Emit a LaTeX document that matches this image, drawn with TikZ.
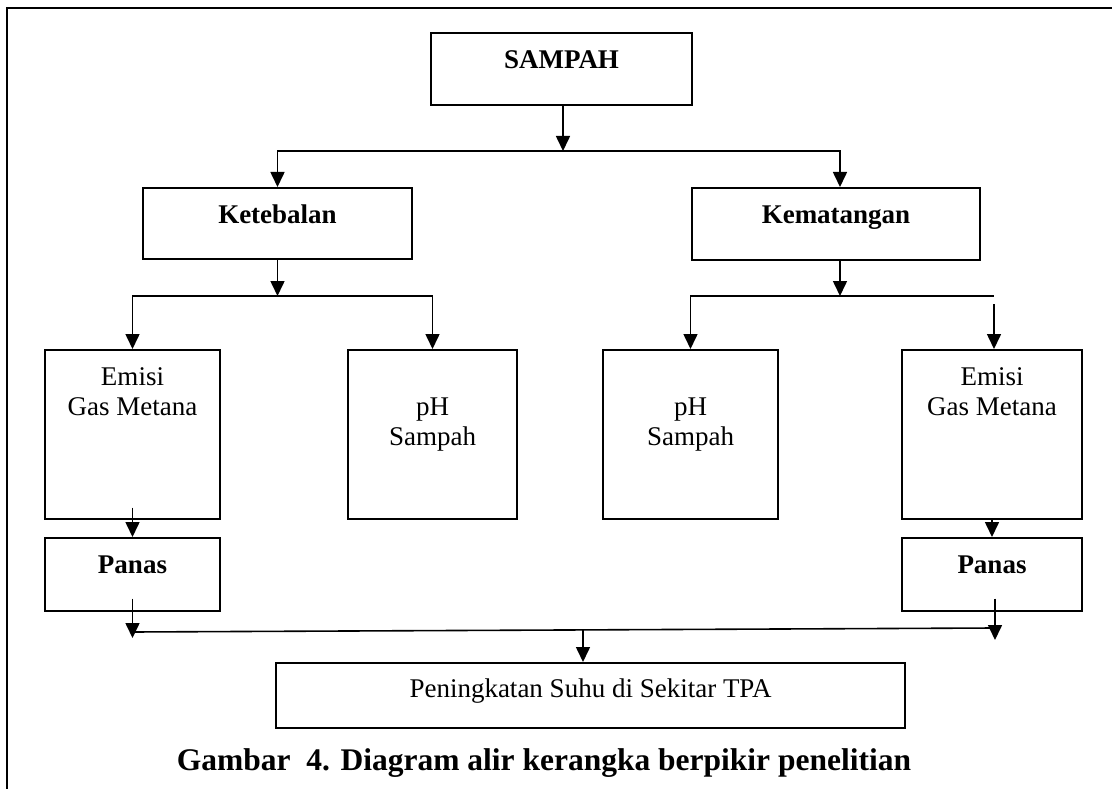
\documentclass[tikz,border=0pt]{standalone}
\usepackage{fontspec}
\setmainfont{Liberation Serif}
\usetikzlibrary{arrows.meta}
\tikzset{
  box/.style={draw, line width=1.6pt, inner sep=0pt, anchor=north, align=center,
              font=\fontsize{27}{30}\selectfont},
  arr/.style={line width=1.6pt, -{Triangle[width=14pt,length=15pt]}},
  ln/.style={line width=1.6pt},
  frame/.style={line width=2.4pt}
}
\newcommand{\twoline}[2]{\begin{tabular}[t]{@{}c@{}}#1\\#2\end{tabular}}
\begin{document}
\begin{tikzpicture}[x=1pt,y=-1pt]
\useasboundingbox (0,0) rectangle (1112,789);
\draw[frame] (7,789) -- (7,8) -- (1112,8);

% boxes
\node[box, minimum width=261pt, minimum height=72pt, text height=36pt, text depth=36pt] (s) at (561.5,32) {\textbf{SAMPAH}};
\node[box, minimum width=269pt, minimum height=71pt, text height=36pt, text depth=35pt] (ket) at (277.5,187) {\textbf{Ketebalan}};
\node[box, minimum width=288pt, minimum height=72pt, text height=36pt, text depth=36pt] (kem) at (836,187) {\textbf{Kematangan}};
\node[box, minimum width=175pt, minimum height=169pt, text height=36pt, text depth=133pt] (emL) at (132.5,349) {\twoline{Emisi}{Gas Metana}};
\node[box, minimum width=169pt, minimum height=169pt, text height=66pt, text depth=103pt] (phL) at (432.5,349) {\twoline{pH}{Sampah}};
\node[box, minimum width=175pt, minimum height=169pt, text height=66pt, text depth=103pt] (phR) at (690.5,349) {\twoline{pH}{Sampah}};
\node[box, minimum width=180pt, minimum height=169pt, text height=36pt, text depth=133pt] (emR) at (992,349) {\twoline{Emisi}{Gas Metana}};
\node[box, minimum width=175pt, minimum height=73pt, text height=36pt, text depth=37pt] (panL) at (132.5,537) {\textbf{Panas}};
\node[box, minimum width=180pt, minimum height=73pt, text height=36pt, text depth=37pt] (panR) at (992,537) {\textbf{Panas}};
\node[box, minimum width=629pt, minimum height=65pt, text height=35pt, text depth=30pt] (pen) at (590.5,662) {Peningkatan Suhu di Sekitar TPA};
\node[anchor=base, inner sep=0pt, font=\fontsize{31.5}{35}\selectfont\bfseries] (cap) at (544,770) {Gambar\ \ 4. Diagram alir kerangka berpikir penelitian};

% junction coordinates
\coordinate (h1) at (563,151);
\coordinate (h2) at (277.5,296);
\coordinate (h3) at (840,296);
\coordinate (h3r) at (994,296);
\coordinate (g3) at (994,304);
\coordinate (hl) at (132.5,632);
\coordinate (hr) at (995,628);
\coordinate (bl) at (132.5,638);
\coordinate (br) at (995,640);
\coordinate (hc) at (583,630);

% connectors
\draw[arr] (s.south -| h1) -- (h1);
\draw[arr] (h1) -| (ket.north);
\draw[arr] (h1) -| (kem.north -| h3);

\draw[arr] (ket.south) -- (h2);
\draw[arr] (h2) -| (emL.north);
\draw[arr] (h2) -| (phL.north);

\draw[arr] (kem.south -| h3) -- (h3);
\draw[arr] (h3) -| (phR.north);
\draw[ln] (h3) -- (h3r);
\draw[arr] (g3) -- (emR.north -| g3);

\draw[arr] ([yshift=12pt]emL.south) -- (panL.north);
\draw[arr] (emR.south) -- (panR.north);

\draw[arr] ([yshift=13pt]panL.south) -- (bl);
\draw[arr] ([yshift=13pt]panR.south -| br) -- (br);
\draw[ln] (hl) -- (hr);
\draw[arr] (hc) -- (hc |- pen.north);
\end{tikzpicture}
\end{document}
